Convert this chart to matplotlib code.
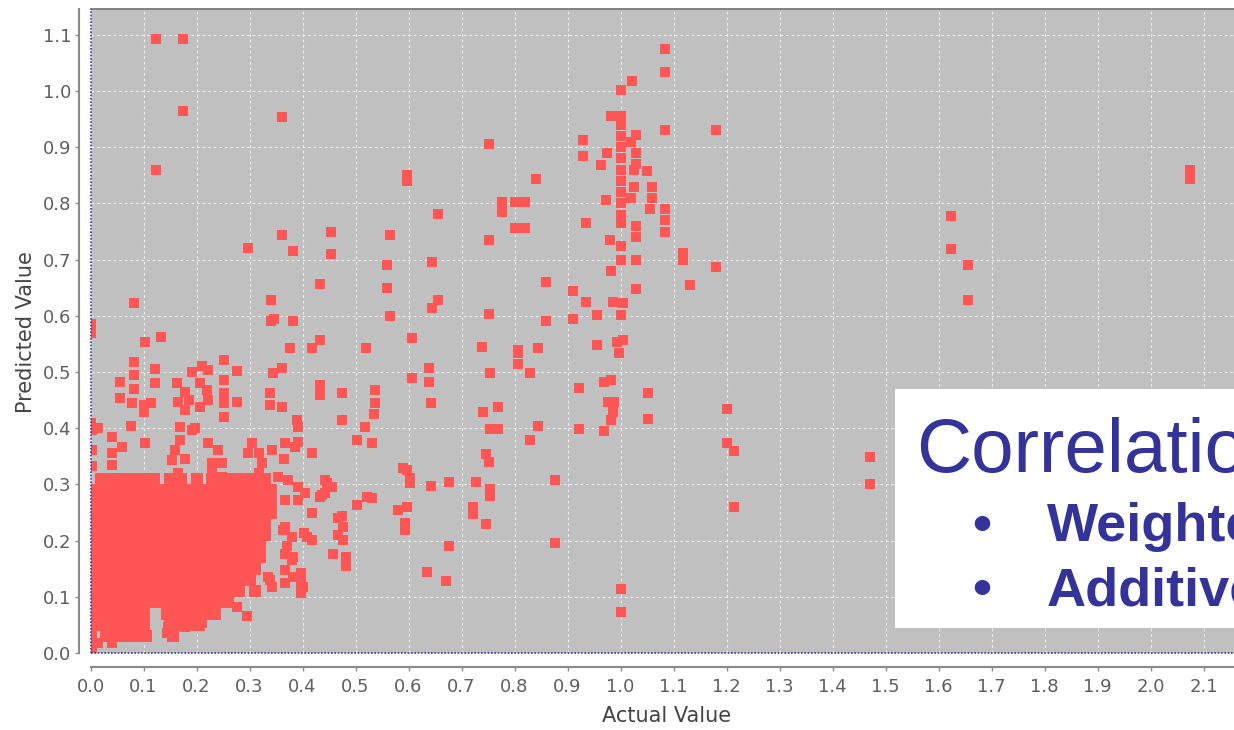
import matplotlib
matplotlib.use("Agg")
import matplotlib.pyplot as plt
from matplotlib.patches import Rectangle

# ---------------- data ----------------
x_ticks = [round(0.1 * i, 1) for i in range(22)]
y_ticks = [round(0.1 * i, 1) for i in range(12)]
x_label = "Actual Value"
y_label = "Predicted Value"
box_title = "Correlation"
box_items = ["Weighted", "Additive"]

# dense cluster near the origin: predicted value -> actual values
cluster_rows = {
    0.31: [0.02, 0.04, 0.06, 0.08, 0.10, 0.12, 0.15, 0.17, 0.20, 0.23, 0.25, 0.27, 0.29, 0.31, 0.33],
    0.29: [0.0, 0.02, 0.04, 0.06, 0.08, 0.10, 0.12, 0.14, 0.16, 0.18, 0.20, 0.22, 0.24, 0.26, 0.28, 0.30, 0.32, 0.34],
    0.27: [0.0, 0.02, 0.04, 0.06, 0.08, 0.10, 0.12, 0.14, 0.16, 0.18, 0.20, 0.22, 0.24, 0.26, 0.28, 0.30, 0.32, 0.34],
    0.25: [0.0, 0.02, 0.04, 0.06, 0.08, 0.10, 0.12, 0.14, 0.16, 0.18, 0.20, 0.22, 0.24, 0.26, 0.28, 0.30, 0.32, 0.34],
    0.23: [0.0, 0.02, 0.04, 0.06, 0.08, 0.10, 0.12, 0.14, 0.16, 0.18, 0.20, 0.22, 0.24, 0.26, 0.28, 0.30, 0.32, 0.33],
    0.21: [0.0, 0.02, 0.04, 0.06, 0.08, 0.10, 0.12, 0.14, 0.16, 0.18, 0.20, 0.22, 0.24, 0.26, 0.28, 0.30, 0.32, 0.33],
    0.19: [0.0, 0.02, 0.04, 0.06, 0.08, 0.10, 0.12, 0.14, 0.16, 0.18, 0.20, 0.22, 0.24, 0.26, 0.28, 0.30, 0.32],
    0.17: [0.0, 0.02, 0.04, 0.06, 0.08, 0.10, 0.12, 0.14, 0.16, 0.18, 0.20, 0.22, 0.24, 0.26, 0.28, 0.30, 0.32],
    0.15: [0.0, 0.02, 0.04, 0.06, 0.08, 0.10, 0.12, 0.14, 0.16, 0.18, 0.20, 0.22, 0.24, 0.26, 0.28, 0.30, 0.31],
    0.13: [0.0, 0.02, 0.04, 0.06, 0.08, 0.10, 0.12, 0.14, 0.16, 0.18, 0.20, 0.22, 0.24, 0.26, 0.28, 0.30],
    0.11: [0.0, 0.02, 0.04, 0.06, 0.08, 0.10, 0.12, 0.14, 0.16, 0.18, 0.20, 0.22, 0.24, 0.26, 0.28, 0.31],
    0.09: [0.0, 0.02, 0.04, 0.06, 0.08, 0.10, 0.12, 0.14, 0.16, 0.18, 0.20, 0.22, 0.24, 0.26],
    0.07: [0.0, 0.02, 0.04, 0.06, 0.08, 0.10, 0.145, 0.16, 0.18, 0.20, 0.22, 0.235],
    0.05: [0.0, 0.02, 0.04, 0.06, 0.08, 0.10, 0.15, 0.17, 0.19, 0.205],
    0.03: [0.0, 0.03, 0.05, 0.07, 0.09, 0.105, 0.155],
    0.01: [0.0],
}

low_x = [0.124, 0.174, 0.174, 0.361, 0.124, 0.598, 0.598, 0.361, 0.453, 0.566, 0.298, 0.382,
         0.453, 0.559, 0.433, 0.559, 0.082, 0.341, 0.566, 0.341, 0.347, 0.382, 0.0, 0.103,
         0.133, 0.433, 0.376, 0.417, 0.519, 0.606, 0.606, 0.597, 0.603, 0.603, 0.597, 0.593,
         0.593, 0.082, 0.082, 0.082, 0.122, 0.122, 0.056, 0.056, 0.078, 0.10, 0.115, 0.10,
         0.191, 0.21, 0.222, 0.252, 0.276, 0.163, 0.178, 0.166, 0.185, 0.207, 0.219, 0.222,
         0.207, 0.178, 0.251, 0.251, 0.251, 0.276, 0.252, 0.345, 0.361, 0.339, 0.339, 0.361,
         0.389, 0.392, 0.433, 0.433, 0.475, 0.475, 0.537, 0.537, 0.534, 0.518, 0.502, 0.531,
         0.015, 0.002, 0.002, 0.002, 0.04, 0.04, 0.04, 0.059, 0.076, 0.103, 0.169, 0.169,
         0.159, 0.153, 0.178, 0.166, 0.191, 0.197, 0.222, 0.241, 0.229, 0.248, 0.229, 0.248,
         0.304, 0.317, 0.298, 0.323, 0.317, 0.342, 0.367, 0.392, 0.386, 0.366, 0.417, 0.354,
         0.373, 0.392, 0.405, 0.442, 0.455, 0.442, 0.521, 0.59, 0.367, 0.392, 0.436, 0.418,
         0.502, 0.531, 0.581, 0.474, 0.477, 0.477, 0.458, 0.483, 0.483, 0.367, 0.38, 0.402,
         0.417, 0.367, 0.38, 0.367, 0.398, 0.398, 0.398, 0.335, 0.342, 0.367, 0.276, 0.295,
         0.241, 0.21, 0.178, 0.147, 0.144, 0.078, 0.04, 0.015, 0.363, 0.408, 0.37, 0.383,
         0.339, 0.383, 0.40, 0.446, 0.433, 0.467, 0.467, 0.0, 0.0]
low_y = [1.093, 1.093, 0.965, 0.953, 0.86, 0.85, 0.84, 0.744, 0.75, 0.744, 0.72, 0.716,
         0.71, 0.69, 0.657, 0.65, 0.623, 0.628, 0.60, 0.59, 0.595, 0.591, 0.569, 0.553,
         0.563, 0.557, 0.543, 0.543, 0.543, 0.56, 0.49, 0.326, 0.311, 0.302, 0.26, 0.231,
         0.219, 0.517, 0.495, 0.47, 0.505, 0.48, 0.482, 0.453, 0.444, 0.441, 0.444, 0.429,
         0.50, 0.51, 0.504, 0.521, 0.502, 0.48, 0.465, 0.447, 0.45, 0.48, 0.468, 0.45,
         0.438, 0.432, 0.486, 0.462, 0.444, 0.447, 0.42, 0.498, 0.507, 0.462, 0.441, 0.438,
         0.415, 0.403, 0.477, 0.459, 0.463, 0.415, 0.468, 0.444, 0.426, 0.403, 0.379, 0.373,
         0.40, 0.397, 0.361, 0.332, 0.385, 0.355, 0.335, 0.367, 0.404, 0.373, 0.403, 0.379,
         0.361, 0.343, 0.346, 0.32, 0.397, 0.40, 0.373, 0.361, 0.338, 0.338, 0.32, 0.314,
         0.373, 0.355, 0.355, 0.338, 0.32, 0.361, 0.373, 0.376, 0.367, 0.345, 0.356, 0.314,
         0.308, 0.296, 0.284, 0.308, 0.296, 0.284, 0.278, 0.329, 0.272, 0.272, 0.281, 0.249,
         0.263, 0.275, 0.254, 0.243, 0.225, 0.201, 0.177, 0.171, 0.154, 0.225, 0.207, 0.213,
         0.201, 0.177, 0.165, 0.148, 0.142, 0.124, 0.106, 0.136, 0.118, 0.124, 0.082, 0.065,
         0.094, 0.053, 0.047, 0.047, 0.035, 0.029, 0.017, 0.017, 0.219, 0.207, 0.19, 0.171,
         0.13, 0.135, 0.117, 0.302, 0.278, 0.24, 0.21, 0.409, 0.585]

high_x = [1.084, 1.084, 1.022, 1.001, 0.983, 1.0, 1.084, 1.18, 0.929, 0.929, 0.751, 0.974,
          0.964, 1.0, 1.0, 1.0, 1.0, 1.0, 1.0, 1.0, 1.0, 1.0, 1.0, 1.03, 1.02, 1.03, 1.03,
          1.025, 1.05, 1.025, 1.02, 1.06, 1.06, 1.055, 1.084, 1.084, 1.084, 1.03, 1.03,
          0.98, 1.0, 1.0, 0.983, 1.03, 1.03, 0.973, 0.935, 1.117, 1.117, 1.132, 1.18,
          0.84, 0.776, 0.776, 0.801, 0.82, 0.80, 0.82, 0.751, 0.656, 0.644, 0.859, 0.911,
          0.935, 0.986, 1.005, 1.0, 0.956, 0.911, 0.859, 0.751, 0.656, 0.644, 0.739, 0.807,
          0.844, 0.956, 0.993, 1.005, 2.075, 2.075, 1.623, 1.623, 1.655, 1.655, 1.20, 1.20,
          1.215, 1.471, 1.471, 1.215, 0.807, 0.807, 0.997, 0.639, 0.639, 0.642, 0.754, 0.829,
          0.921, 0.969, 0.983, 0.988, 0.977, 0.986, 0.983, 0.969, 0.921, 1.052, 1.052, 0.74,
          0.769, 0.754, 0.769, 0.844, 0.829, 0.746, 0.751, 0.642, 0.677, 0.727, 0.754, 0.754,
          0.876, 0.721, 0.721, 0.746, 0.677, 0.876, 0.635, 0.671, 1.0, 1.0]
high_y = [1.074, 1.033, 1.018, 1.002, 0.955, 0.955, 0.931, 0.931, 0.912, 0.884, 0.906, 0.89,
          0.868, 0.94, 0.92, 0.90, 0.88, 0.86, 0.84, 0.82, 0.80, 0.78, 0.765, 0.922, 0.91,
          0.89, 0.87, 0.86, 0.857, 0.83, 0.81, 0.83, 0.81, 0.79, 0.79, 0.77, 0.75, 0.76,
          0.74, 0.735, 0.725, 0.70, 0.68, 0.70, 0.648, 0.806, 0.766, 0.711, 0.70, 0.655,
          0.687, 0.843, 0.803, 0.785, 0.803, 0.803, 0.756, 0.756, 0.735, 0.781, 0.696, 0.66,
          0.645, 0.625, 0.625, 0.622, 0.601, 0.601, 0.594, 0.591, 0.603, 0.628, 0.613, 0.545,
          0.539, 0.542, 0.548, 0.554, 0.557, 0.86, 0.843, 0.778, 0.718, 0.69, 0.628, 0.435,
          0.373, 0.36, 0.348, 0.301, 0.26, 0.533, 0.515, 0.533, 0.507, 0.482, 0.444, 0.498,
          0.498, 0.472, 0.482, 0.485, 0.447, 0.447, 0.429, 0.415, 0.395, 0.398, 0.463, 0.416,
          0.429, 0.438, 0.398, 0.398, 0.404, 0.379, 0.354, 0.339, 0.298, 0.304, 0.304, 0.291,
          0.28, 0.307, 0.259, 0.247, 0.229, 0.191, 0.195, 0.144, 0.128, 0.114, 0.073]

# ---------------- figure ----------------
W, H = 1234, 730
fig = plt.figure(figsize=(W / 100, H / 100), dpi=100)


def fx(px):
    return px / W


def fy(py):
    return 1 - py / H


ax = fig.add_axes([fx(90.5), fy(653), fx(1234) - fx(90.5), fy(9) - fy(653)])
ax.set_facecolor("#C0C0C0")

cx, cy = [], []
for yv, xs in cluster_rows.items():
    for xv in xs:
        cx.append(xv)
        cy.append(yv)

# cluster drawn with slightly larger squares so the solid blob has no seams
ax.scatter(cx, cy, marker="s", s=72, c="#FF5555", linewidths=0, zorder=3)
ax.scatter(low_x + high_x, low_y + high_y, marker="s", s=62, c="#FF5555",
           linewidths=0, zorder=3)

ax.set_xlim(0, (1234 - 90.5) / 530)
ax.set_ylim(0, (653 - 9) / 562)
ax.set_xticks(x_ticks)
ax.set_yticks(y_ticks)
ax.set_xticklabels([f"{v:.1f}" for v in x_ticks])
ax.set_yticklabels([f"{v:.1f}" for v in y_ticks])
ax.grid(True, color="#EDEDED", linestyle=(0, (2.5, 2.5)), linewidth=0.8)
ax.set_axisbelow(True)

ax.axvline(0, color="#3a3a9a", lw=1.2, ls=(0, (1, 1)), zorder=4, clip_on=False)
ax.axhline(0, color="#3a3a9a", lw=1.2, ls=(0, (1, 1)), zorder=4, clip_on=False)

for s in ["left", "bottom"]:
    ax.spines[s].set_color("#8a8a8a")
    ax.spines[s].set_linewidth(1.5)
ax.spines["left"].set_position(("outward", 8))
ax.spines["bottom"].set_position(("outward", 10))
ax.spines["top"].set_color("#7a7a7a")
ax.spines["top"].set_linewidth(1.3)
ax.spines["right"].set_visible(False)

ax.tick_params(direction="out", length=3, width=1, color="#8a8a8a",
               labelsize=13, labelcolor="#5f5f5f", pad=3)
ax.tick_params(axis="x", pad=5)

fig.text(fx(667), fy(716), x_label, ha="center", va="center", fontsize=15, color="#444444")
fig.text(fx(26), fy(332), y_label, ha="center", va="center", rotation=90, fontsize=15,
         color="#444444")

# overlay box
fig.add_artist(Rectangle((fx(895), fy(628)), 1 - fx(895) + 0.02, fy(389) - fy(628),
                         transform=fig.transFigure, facecolor="white", edgecolor="none",
                         zorder=5))
fig.text(fx(916), fy(472), box_title, fontsize=55, family="Liberation Sans",
         color="#333399", ha="left", va="baseline", zorder=6)
for i, item in enumerate(box_items):
    base = [541, 605][i]
    fig.text(fx(972), fy(base), "\u2022", fontsize=39, family="Liberation Sans",
             weight="bold", color="#333399", ha="left", va="baseline", zorder=6)
    fig.text(fx(1047), fy(base), item, fontsize=39, family="Liberation Sans",
             weight="bold", color="#333399", ha="left", va="baseline", zorder=6)

fig.savefig("out.png", dpi=100)
